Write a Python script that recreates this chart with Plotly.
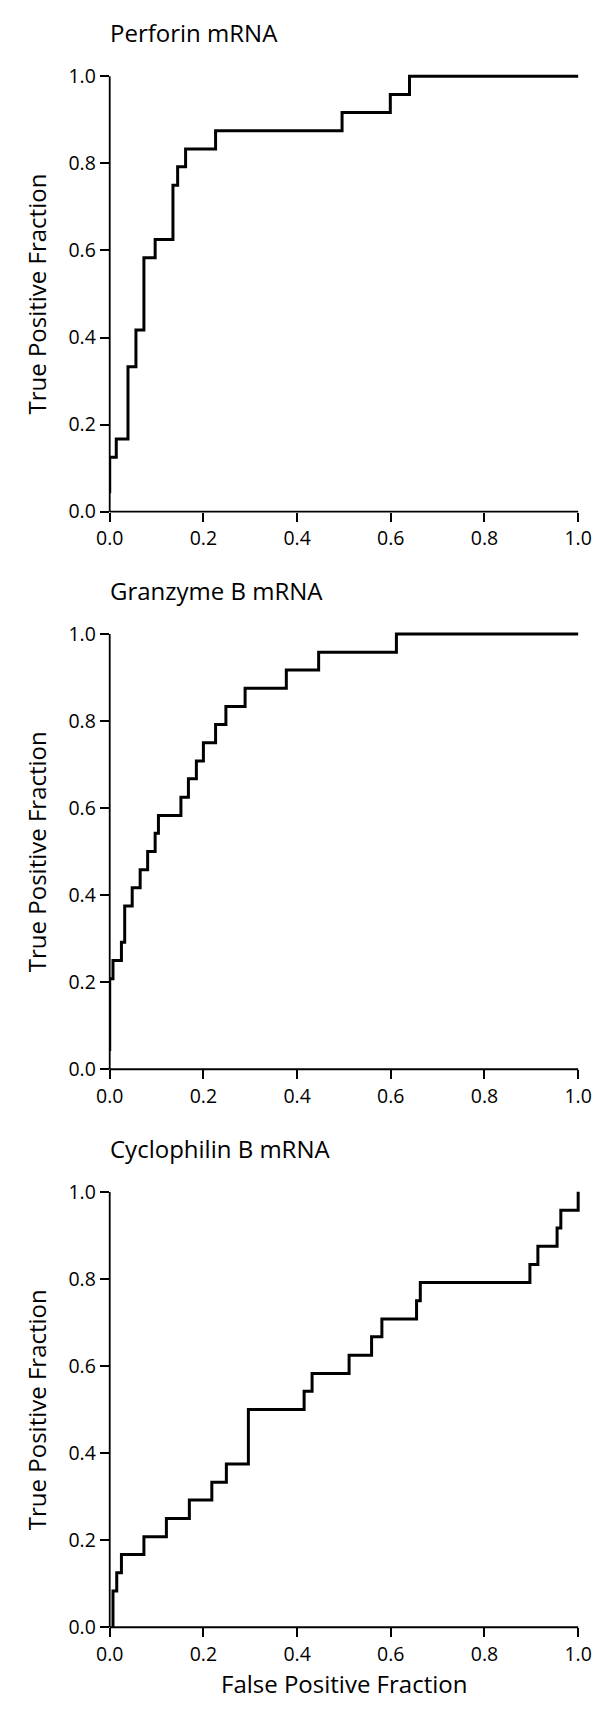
import plotly.graph_objects as go

# ROC curves: (false positive fraction, true positive fraction) at each step,
# drawn with a horizontal-then-vertical step shape.
perforin_fpf = [0.0, 0.0, 0.014, 0.039, 0.056, 0.073, 0.097, 0.135, 0.145, 0.162,
                0.226, 0.496, 0.599, 0.640, 1.0]
perforin_tpf = [0.042, 0.125, 0.167, 0.333, 0.417, 0.583, 0.625, 0.750, 0.792, 0.833,
                0.875, 0.917, 0.958, 1.0, 1.0]

granzyme_fpf = [0.0, 0.0, 0.007, 0.025, 0.032, 0.048, 0.065, 0.081, 0.097, 0.104,
                0.152, 0.168, 0.185, 0.200, 0.226, 0.248, 0.289, 0.377, 0.446, 0.612, 1.0]
granzyme_tpf = [0.042, 0.208, 0.250, 0.292, 0.375, 0.417, 0.458, 0.500, 0.542, 0.583,
                0.625, 0.667, 0.708, 0.750, 0.792, 0.833, 0.875, 0.917, 0.958, 1.0, 1.0]

cyclophilin_fpf = [0.007, 0.007, 0.015, 0.025, 0.073, 0.121, 0.170, 0.218, 0.249, 0.296,
                   0.415, 0.432, 0.511, 0.559, 0.581, 0.655, 0.663, 0.897, 0.914, 0.955,
                   0.963, 1.0]
cyclophilin_tpf = [0.0, 0.083, 0.125, 0.167, 0.208, 0.250, 0.292, 0.333, 0.375, 0.500,
                   0.542, 0.583, 0.625, 0.667, 0.708, 0.750, 0.792, 0.833, 0.875, 0.917,
                   0.958, 1.0]

panel_titles = ["Perforin mRNA", "Granzyme B mRNA", "Cyclophilin B mRNA"]
tick_values = [0.0, 0.2, 0.4, 0.6, 0.8, 1.0]
y_title = "True Positive Fraction"
x_title = "False Positive Fraction"

series = [(perforin_fpf, perforin_tpf),
          (granzyme_fpf, granzyme_tpf),
          (cyclophilin_fpf, cyclophilin_tpf)]

# ---- page geometry (pixels) ----
W, H = 604, 1709
X_LEFT = 99.5          # pixel of FPF = 0
X_UNIT = 487.0         # pixels per unit FPF
Y_UNIT = 441.3         # pixels per unit TPF
Y_ZERO = [508.5, 1073.7, 1639.3]   # pixel row of TPF = 0 in each panel
XMAX, YMAX = 1.01, 1.01            # small headroom so the line at 1.0 is not clipped

FONT = "Open Sans, Liberation Sans, Arial, sans-serif"
TICK_SIZE = 19.5
TITLE_SIZE = 24

fig = go.Figure()
layout = dict(
    width=W, height=H,
    margin=dict(l=0, r=0, t=0, b=0),
    paper_bgcolor="white", plot_bgcolor="white",
    showlegend=False,
    font=dict(family=FONT, color="black", size=TICK_SIZE),
)

shapes, annotations = [], []
for i, ((fx, ty), title) in enumerate(zip(series, panel_titles)):
    n = "" if i == 0 else str(i + 1)
    xa, ya = "x" + n, "y" + n

    fig.add_trace(go.Scatter(
        x=fx, y=ty, mode="lines", line=dict(shape="hv", color="black", width=3),
        xaxis=xa, yaxis=ya, hoverinfo="skip"))

    y0 = Y_ZERO[i]
    ytop = y0 - Y_UNIT * YMAX
    axis_common = dict(
        showgrid=False, zeroline=False, showline=False,
        ticks="outside", ticklen=9, tickwidth=1.8, tickcolor="black",
        tickvals=tick_values, tickformat=".1f",
        tickfont=dict(family=FONT, size=TICK_SIZE, color="black"),
        fixedrange=True,
    )
    layout["xaxis" + n] = dict(
        axis_common, range=[0, XMAX], anchor=ya,
        domain=[X_LEFT / W, (X_LEFT + X_UNIT * XMAX) / W])
    layout["yaxis" + n] = dict(
        axis_common, range=[0, YMAX], anchor=xa,
        domain=[(H - y0) / H, (H - ytop) / H])

    # axis lines that stop exactly at 1.0
    shapes.append(dict(type="line", xref=xa + " domain", yref=ya + " domain",
                       x0=0, x1=1 / XMAX, y0=0, y1=0,
                       line=dict(color="black", width=1.8)))
    shapes.append(dict(type="line", xref=xa + " domain", yref=ya + " domain",
                       x0=0, x1=0, y0=0, y1=1 / YMAX,
                       line=dict(color="black", width=1.8)))

    # panel heading
    annotations.append(dict(
        text=title, xref="paper", yref="paper",
        x=(X_LEFT - 2) / W, y=1 - (y0 - Y_UNIT - 44) / H,
        xanchor="left", yanchor="middle", showarrow=False,
        font=dict(family=FONT, size=TITLE_SIZE, color="black")))

    # y-axis title
    annotations.append(dict(
        text=y_title, xref="paper", yref="paper",
        x=23.5 / W, y=1 - (y0 - Y_UNIT / 2) / H,
        xanchor="center", yanchor="middle", textangle=-90, showarrow=False,
        font=dict(family=FONT, size=TITLE_SIZE, color="black")))

# x-axis title under the last panel
annotations.append(dict(
    text=x_title, xref="paper", yref="paper",
    x=(X_LEFT + X_UNIT / 2) / W, y=1 - 1696 / H,
    xanchor="center", yanchor="middle", showarrow=False,
    font=dict(family=FONT, size=TITLE_SIZE, color="black")))

layout["shapes"] = shapes
layout["annotations"] = annotations
fig.update_layout(**layout)
fig.write_html("out.html")
